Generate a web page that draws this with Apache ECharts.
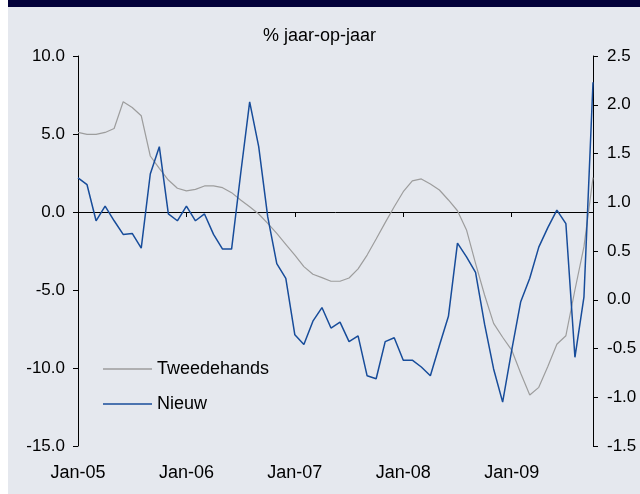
<!DOCTYPE html>
<html>
<head>
<meta charset="utf-8">
<script src="https://cdn.jsdelivr.net/npm/echarts@6/dist/echarts.min.js"></script>
<style>
html, body { margin: 0; padding: 0; background: #ffffff; }
#chart { width: 640px; height: 494px; }
</style>
</head>
<body>
<div id="chart"></div>
<script>
// maanden jan-05 t/m okt-09
const monthNames = ['Jan', 'Feb', 'Mar', 'Apr', 'May', 'Jun', 'Jul', 'Aug', 'Sep', 'Oct', 'Nov', 'Dec']
const years = ['05', '06', '07', '08', '09']
const categories = []
years.forEach(y => monthNames.forEach(m => categories.push(m + '-' + y)))
categories.length = 58

// tweedehands (linkeras)
const tweedehands = [5.1, 4.98, 4.98, 5.1, 5.35, 7.07, 6.7, 6.17, 3.59, 2.8, 2.05, 1.52,
  1.35, 1.45, 1.67, 1.67, 1.56, 1.24, 0.77, 0.34, -0.13, -0.73, -1.37, -2.07,
  -2.76, -3.5, -3.99, -4.21, -4.44, -4.44, -4.23, -3.65, -2.76, -1.73, -0.68, 0.34,
  1.3, 1.99, 2.12, 1.8, 1.41, 0.77, 0.08, -1.15, -3.29, -5.32, -7.14, -8.03,
  -8.85, -10.34, -11.73, -11.24, -9.91, -8.48, -7.93, -5.0, -2.22, 2.2]

// nieuw (rechteras)
const nieuw = [1.25, 1.18, 0.81, 0.96, 0.81, 0.67, 0.68, 0.53, 1.29, 1.57, 0.88, 0.81,
  0.96, 0.81, 0.88, 0.67, 0.52, 0.52, 1.29, 2.03, 1.57, 0.85, 0.37, 0.22,
  -0.36, -0.46, -0.22, -0.08, -0.29, -0.23, -0.43, -0.37, -0.78, -0.81, -0.43, -0.39,
  -0.62, -0.62, -0.69, -0.78, -0.47, -0.17, 0.58, 0.44, 0.28, -0.25, -0.71, -1.05,
  -0.52, -0.02, 0.22, 0.54, 0.74, 0.92, 0.78, -0.59, 0.03, 2.23]

const leftTicks = { min: -15, max: 10, interval: 5 }
const rightTicks = { min: -1.5, max: 2.5, interval: 0.5 }

const isJan = (i) => i % 12 === 0
const font = 'Liberation Sans, Arial, sans-serif'

const chart = echarts.init(document.getElementById('chart'))

const option = {
  animation: false,
  backgroundColor: 'transparent',
  graphic: [
    { type: 'rect', z: -10, shape: { x: 8, y: 7, width: 632, height: 487 }, style: { fill: '#e5e8ee' } },
    { type: 'rect', z: -10, shape: { x: 8, y: 0, width: 632, height: 7 }, style: { fill: '#03013a' } }
  ],
  title: {
    text: '% jaar-op-jaar',
    left: 258,
    top: 22,
    textStyle: { fontFamily: font, fontSize: 18, fontWeight: 'normal', color: '#000' }
  },
  legend: {
    orient: 'vertical',
    left: 98,
    top: 355,
    icon: 'rect',
    itemWidth: 49,
    itemHeight: 1.5,
    itemGap: 17,
    textStyle: { fontFamily: font, fontSize: 18, color: '#000' },
    data: ['Tweedehands', 'Nieuw']
  },
  grid: { left: 78, right: 47, top: 56, bottom: 48, outerBoundsMode: 'none' },
  xAxis: [
    {
      type: 'category',
      data: categories,
      boundaryGap: false,
      position: 'bottom',
      axisLine: { show: false },
      axisTick: { show: false },
      axisLabel: {
        interval: (i) => isJan(i),
        margin: 18,
        fontFamily: font,
        fontSize: 18,
        color: '#000'
      },
      splitLine: { show: false }
    },
    {
      type: 'category',
      data: categories,
      boundaryGap: false,
      position: 'bottom',
      axisLine: { onZero: true, onZeroAxisIndex: 0, lineStyle: { color: '#000', width: 1 } },
      axisTick: { interval: (i) => isJan(i), length: 5, lineStyle: { color: '#000' } },
      axisLabel: { show: false },
      splitLine: { show: false }
    }
  ],
  yAxis: [
    {
      type: 'value',
      position: 'left',
      min: leftTicks.min,
      max: leftTicks.max,
      interval: leftTicks.interval,
      axisLine: { show: true, onZero: false, lineStyle: { color: '#000', width: 1 } },
      axisTick: { show: true, length: 5, lineStyle: { color: '#000' } },
      axisLabel: {
        margin: 13,
        fontFamily: font,
        fontSize: 17,
        color: '#000',
        formatter: (v) => v.toFixed(1)
      },
      splitLine: { show: false }
    },
    {
      type: 'value',
      position: 'right',
      min: rightTicks.min,
      max: rightTicks.max,
      interval: rightTicks.interval,
      axisLine: { show: true, onZero: false, lineStyle: { color: '#000', width: 1 } },
      axisTick: { show: true, length: 5, lineStyle: { color: '#000' } },
      axisLabel: {
        margin: 14,
        fontFamily: font,
        fontSize: 17,
        color: '#000',
        formatter: (v) => v.toFixed(1)
      },
      splitLine: { show: false }
    }
  ],
  series: [
    {
      name: 'Tweedehands',
      type: 'line',
      xAxisIndex: 0,
      yAxisIndex: 0,
      data: tweedehands,
      symbol: 'none',
      lineStyle: { color: '#9d9d9d', width: 1.2 },
      itemStyle: { color: '#9d9d9d' },
      z: 3
    },
    {
      name: 'Nieuw',
      type: 'line',
      xAxisIndex: 0,
      yAxisIndex: 1,
      data: nieuw,
      symbol: 'none',
      lineStyle: { color: '#174c9a', width: 1.5 },
      itemStyle: { color: '#174c9a' },
      z: 4
    }
  ]
}

chart.setOption(option)
</script>
</body>
</html>
